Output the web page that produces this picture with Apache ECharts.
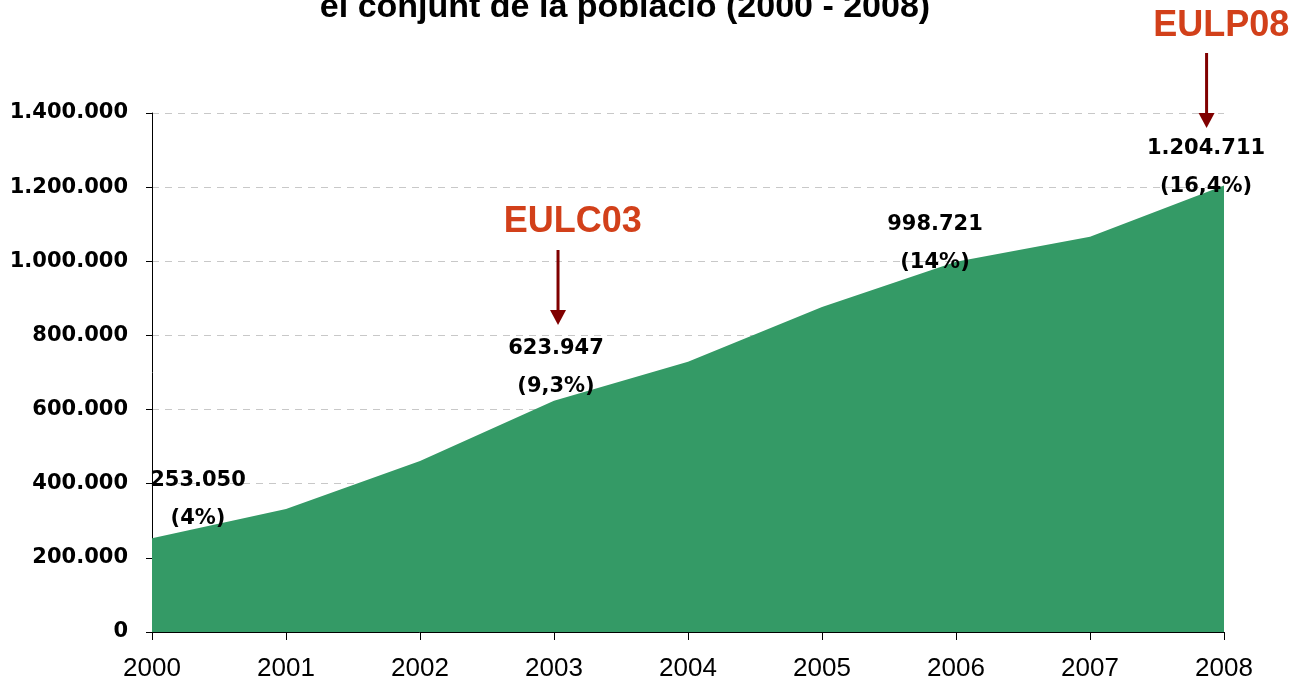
<!DOCTYPE html>
<html>
<head>
<meta charset="utf-8">
<script src="https://cdn.jsdelivr.net/npm/echarts@6/dist/echarts.min.js"></script>
<style>
  html, body { margin: 0; padding: 0; background: #fff; }
  #main { width: 1294px; height: 682px; }
</style>
</head>
<body>
<div id="main"></div>
<script>
// anys i població estrangera
var years = [2000, 2001, 2002, 2003, 2004, 2005, 2006, 2007, 2008];
var values = [253050, 332000, 461000, 623947, 729000, 877000, 998721, 1066000, 1204711];
// etiquetes només a alguns anys
var labelYears = [2000, 2003, 2006, 2008];
var labelPct = ["4%", "9,3%", "14%", "16,4%"];
var labelOffsets = [[46, -39], [2, -33], [-21, -18], [-18, -18]];

function fmt(v) {
  return String(v).replace(/\B(?=(\d{3})+(?!\d))/g, ".");
}

var myChart = echarts.init(document.getElementById("main"));

var seriesData = years.map(function (y, i) {
  var k = labelYears.indexOf(y);
  var item = { value: [y, values[i]] };
  if (k >= 0) {
    item.label = {
      show: true,
      position: labelOffsets[k],
      align: "center",
      verticalAlign: "middle",
      formatter: fmt(values[i]) + "\n(" + labelPct[k] + ")"
    };
  }
  return item;
});

myChart.setOption({
  backgroundColor: "#fff",
  animation: false,
  grid: { left: 152, right: 70, top: 113, bottom: 50 },
  xAxis: {
    type: "value",
    min: 2000,
    max: 2008,
    interval: 1,
    axisLine: { lineStyle: { color: "#000", width: 1 } },
    axisTick: { show: true, length: 8, lineStyle: { color: "#000" } },
    axisLabel: {
      margin: 24,
      color: "#000",
      fontFamily: "Liberation Sans",
      fontSize: 26,
      formatter: function (v) { return String(v); }
    },
    splitLine: { show: false }
  },
  yAxis: {
    type: "value",
    min: 0,
    max: 1400000,
    interval: 200000,
    axisLine: { show: true, lineStyle: { color: "#000", width: 1 } },
    axisTick: { show: true, length: 6, lineStyle: { color: "#000" } },
    axisLabel: {
      margin: 24,
      color: "#000",
      fontFamily: "DejaVu Sans",
      fontSize: 21,
      fontWeight: "bold",
      formatter: function (v) { return fmt(v); }
    },
    splitLine: { show: true, lineStyle: { color: "#c8c8c8", type: [7, 6], width: 1 } }
  },
  series: [{
    type: "line",
    data: seriesData,
    symbol: "circle",
    symbolSize: 0,
    showSymbol: true,
    lineStyle: { width: 0 },
    itemStyle: { color: "#339966" },
    areaStyle: { color: "#349a66", opacity: 1 },
    label: {
      color: "#000",
      fontFamily: "DejaVu Sans",
      fontSize: 21,
      fontWeight: "bold",
      lineHeight: 38
    },
    z: 2
  }]
});

// anotacions EULC03 i EULP08 (en coordenades de dades)
var notes = [
  { text: "EULC03", x: 2003.03, top: 1030500, tip: 828200, tx: 2003.14, ty: 1106000 },
  { text: "EULP08", x: 2007.87, top: 1561900, tip: 1359600, tx: 2007.98, ty: 1634700 }
];
var graphics = [{
  type: "text",
  x: 625,
  y: 25,
  style: {
    text: "el conjunt de la població (2000 - 2008)",
    fill: "#000",
    font: "bold 34px 'Liberation Sans'",
    textAlign: "center",
    textVerticalAlign: "bottom"
  }
}];
notes.forEach(function (n) {
  var p1 = myChart.convertToPixel({ gridIndex: 0 }, [n.x, n.top]);
  var p2 = myChart.convertToPixel({ gridIndex: 0 }, [n.x, n.tip]);
  var pt = myChart.convertToPixel({ gridIndex: 0 }, [n.tx, n.ty]);
  graphics.push({
    type: "line",
    shape: { x1: p1[0], y1: p1[1], x2: p2[0], y2: p2[1] - 12 },
    style: { stroke: "#800000", lineWidth: 3 }
  });
  graphics.push({
    type: "polygon",
    shape: { points: [[p2[0] - 8, p2[1] - 15], [p2[0] + 8, p2[1] - 15], [p2[0], p2[1]]] },
    style: { fill: "#800000" }
  });
  graphics.push({
    type: "text",
    x: pt[0],
    y: pt[1],
    style: {
      text: n.text,
      fill: "#D2401A",
      font: "bold 36px 'Liberation Sans'",
      textAlign: "center",
      textVerticalAlign: "middle"
    }
  });
});
myChart.setOption({ graphic: graphics });

window.onresize = function () {
  myChart.resize();
};
</script>
</body>
</html>
